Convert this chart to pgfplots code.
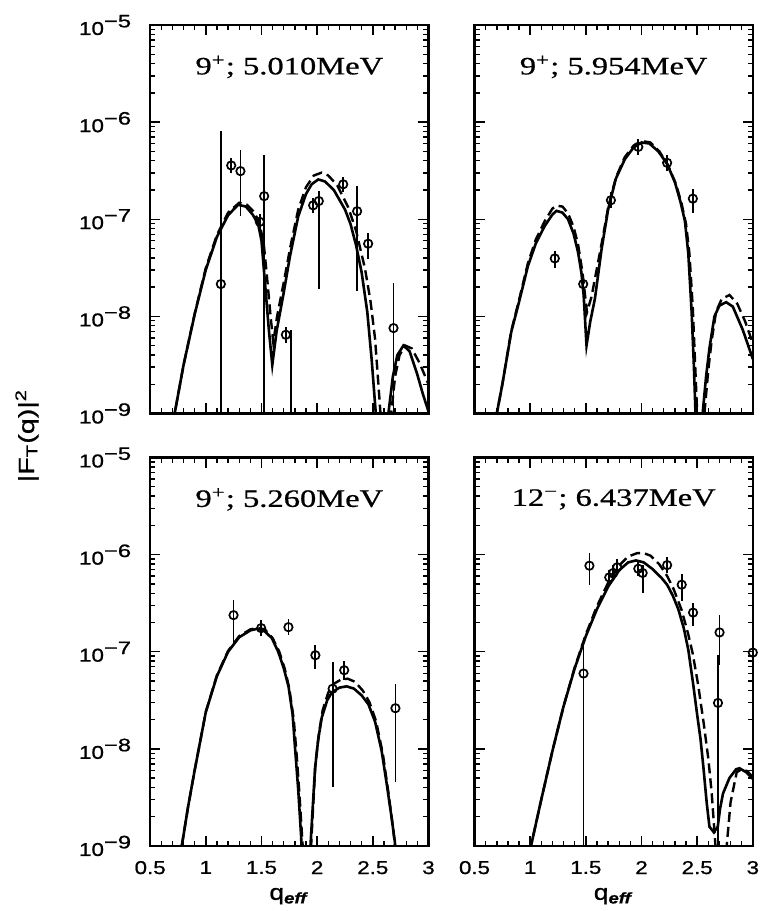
\documentclass[border=0pt]{standalone}
\usepackage{graphicx}
\usepackage{fontspec}
\setmainfont{Liberation Serif}[FakeBold=0.6]
\newfontfamily\sansw{Liberation Sans}[FakeBold=0.8]
\usepackage{pgfplots}
\pgfplotsset{compat=1.18}
\usepgfplotslibrary{groupplots}
\usetikzlibrary{calc}
\newcommand{\w}[1]{\scalebox{1.2}[1]{#1}}
\newcommand{\dec}[1]{\w{10\raisebox{3.8pt}{\fontsize{9}{9}\selectfont \scalebox{1.1}[1]{−#1}}}}
\newcommand{\ttl}[1]{\scalebox{1.3}[1]{#1}}
\pgfplotsset{
  thcurve/.style={black, line width=1.3pt, no marks},
  thdash/.style={black, line width=1.2pt, no marks, dash pattern=on 5pt off 2.5pt},
  datapts/.style={black, only marks, mark=o, mark size=2.1pt,
    mark options={line width=0.85pt, solid},
    error bars/.cd, y dir=both, y explicit, error mark=none,
    error bar style={line width=0.9pt, solid}},
  ebar/.style={black, line width=0.9pt, no marks},
}
\begin{document}
\begin{tikzpicture}
\begin{groupplot}[
  group style={group size=2 by 2, horizontal sep=23pt, vertical sep=22pt,
    x descriptions at=edge bottom, y descriptions at=edge left},
  width=139pt, height=194pt, scale only axis,
  xmin=0.5, xmax=3, ymode=log, ymin=1e-9, ymax=1e-5,
  xtick={0.5,1,1.5,2,2.5,3}, xticklabels={\w{0.5},\w{1},\w{1.5},\w{2},\w{2.5},\w{3}},
  minor x tick num=4,
  ytick={1e-9,1e-8,1e-7,1e-6,1e-5},
  yticklabels={\dec{9},\dec{8},\dec{7},\dec{6},\dec{5}},
  minor ytick={2e-9,3e-9,4e-9,5e-9,6e-9,7e-9,8e-9,9e-9,
    2e-8,3e-8,4e-8,5e-8,6e-8,7e-8,8e-8,9e-8,
    2e-7,3e-7,4e-7,5e-7,6e-7,7e-7,8e-7,9e-7,
    2e-6,3e-6,4e-6,5e-6,6e-6,7e-6,8e-6,9e-6},
  tick align=inside, major tick length=5pt, minor tick length=2.5pt,
  every tick/.style={black, line width=0.7pt},
  axis line style={line width=1.1pt},
  tick label style={font=\sansw\fontsize{9.3}{10}\selectfont},
  xticklabel style={yshift=-4pt},
  yticklabel style={xshift=-6pt},
  xlabel={\w{q\textsubscript{\textbf{\textit{eff}}}}},
  xlabel style={font=\sansw\fontsize{11}{13}\selectfont},
]
% ---------------- top left
\nextgroupplot
\addplot[thcurve] coordinates {(0.70,5.62e-10) (0.72,1.0e-9) (0.80,3.16e-9) (0.90,1.05e-8) (1.00,3.02e-8) (1.10,6.61e-8) (1.20,1.10e-7) (1.29,1.41e-7) (1.36,1.35e-7) (1.42,1.12e-7) (1.47,8.91e-8) (1.50,6.03e-8) (1.531,2.24e-8) (1.567,7.08e-9) (1.597,3.16e-9) (1.636,7.08e-9) (1.696,1.66e-8) (1.756,4.17e-8) (1.83,1.07e-7) (1.90,1.82e-7) (1.95,2.29e-7) (2.01,2.57e-7) (2.07,2.45e-7) (2.15,2.00e-7) (2.25,1.26e-7) (2.30,8.91e-8) (2.35,5.37e-8) (2.40,2.82e-8) (2.45,1.12e-8) (2.49,3.55e-9) (2.53,8.91e-10) (2.56,2.51e-10) (2.59,1e-11) (2.62,2.51e-10) (2.64,1.0e-9) (2.68,2.40e-9) (2.72,3.98e-9) (2.775,5.01e-9) (2.83,4.37e-9) (2.90,2.51e-9) (2.95,1.58e-9) (3.00,1.05e-9)};
\addplot[thdash] coordinates {(0.70,5.62e-10) (0.72,1.0e-9) (0.80,3.16e-9) (0.90,1.07e-8) (1.00,3.16e-8) (1.10,6.92e-8) (1.20,1.17e-7) (1.30,1.48e-7) (1.37,1.41e-7) (1.43,1.20e-7) (1.48,9.33e-8) (1.52,5.62e-8) (1.55,2.51e-8) (1.58,1.05e-8) (1.606,5.37e-9) (1.64,1.0e-8) (1.70,2.24e-8) (1.76,5.25e-8) (1.83,1.26e-7) (1.90,2.14e-7) (1.97,2.82e-7) (2.04,3.02e-7) (2.10,2.82e-7) (2.18,2.24e-7) (2.28,1.32e-7) (2.35,7.59e-8) (2.43,3.09e-8) (2.48,1.41e-8) (2.52,5.89e-9) (2.55,2.00e-9) (2.575,7.94e-10) (2.60,1.58e-10) (2.615,1e-11) (2.64,1.58e-10) (2.665,1.0e-9) (2.70,2.40e-9) (2.74,3.98e-9) (2.79,5.01e-9) (2.85,4.68e-9) (2.92,3.31e-9) (3.00,2.00e-9)};
\addplot[datapts] table[x=x, y=y, y error plus=ep, y error minus=em, row sep=\\] {
x y ep em\\
1.135 2.15e-8 7.985e-7 2.14e-8\\
1.228 3.58e-7 7.2e-8 5.8e-8\\
1.311 3.13e-7 2.01e-7 2.05e-7\\
1.485 9.4e-8 1.9e-8 1.58e-8\\
1.524 1.73e-7 2.84e-7 1.729e-7\\
1.719 6.46e-9 1.3e-9 1.1e-9\\
1.964 1.39e-7 2.8e-8 2.3e-8\\
2.015 1.54e-7 4.1e-8 1.349e-7\\
2.234 2.29e-7 4.6e-8 3.8e-8\\
2.359 1.21e-7 9.9e-8 1.026e-7\\
2.458 5.6e-8 1.7e-8 1.7e-8\\
2.686 7.57e-9 1.433e-8 7.47e-9\\
};
\addplot[ebar] coordinates {(1.763,1e-10) (1.763,7.2e-9)};
\node[font=\fontsize{12.5}{14}\selectfont] at (rel axis cs:0.5,0.892) {\ttl{9\textsuperscript{+}; 5.010MeV}};
% ---------------- top right
\nextgroupplot
\addplot[thcurve] coordinates {(0.68,6.31e-10) (0.70,1.0e-9) (0.75,2.0e-9) (0.83,6.92e-9) (0.90,1.41e-8) (0.98,3.31e-8) (1.05,5.62e-8) (1.13,8.51e-8) (1.20,1.12e-7) (1.236,1.22e-7) (1.29,1.17e-7) (1.34,1.0e-7) (1.39,7.08e-8) (1.43,4.57e-8) (1.46,2.82e-8) (1.48,1.66e-8) (1.506,5.01e-9) (1.54,8.91e-9) (1.581,1.51e-8) (1.641,4.90e-8) (1.70,1.26e-7) (1.77,2.63e-7) (1.851,4.17e-7) (1.93,5.50e-7) (2.00,6.17e-7) (2.07,6.03e-7) (2.15,5.01e-7) (2.23,3.72e-7) (2.30,2.40e-7) (2.35,1.51e-7) (2.39,9.55e-8) (2.42,4.47e-8) (2.45,1.12e-8) (2.47,3.16e-9) (2.485,1.0e-9) (2.50,2.51e-10) (2.517,1e-11) (2.535,2.51e-10) (2.549,1.0e-9) (2.58,2.40e-9) (2.61,4.68e-9) (2.655,1.0e-8) (2.70,1.29e-8) (2.76,1.40e-8) (2.82,1.26e-8) (2.91,7.24e-9) (3.00,3.63e-9)};
\addplot[thdash] coordinates {(0.68,6.31e-10) (0.70,1.0e-9) (0.75,2.0e-9) (0.83,7.08e-9) (0.90,1.48e-8) (0.98,3.55e-8) (1.05,6.17e-8) (1.13,9.55e-8) (1.20,1.29e-7) (1.24,1.38e-7) (1.29,1.35e-7) (1.34,1.15e-7) (1.39,8.32e-8) (1.43,5.50e-8) (1.47,2.82e-8) (1.51,1.10e-8) (1.55,1.58e-8) (1.60,3.16e-8) (1.65,6.31e-8) (1.70,1.32e-7) (1.77,2.69e-7) (1.85,4.37e-7) (1.93,5.75e-7) (2.01,6.38e-7) (2.08,6.17e-7) (2.16,5.01e-7) (2.24,3.55e-7) (2.31,2.29e-7) (2.36,1.45e-7) (2.40,8.91e-8) (2.43,4.47e-8) (2.46,1.26e-8) (2.48,3.55e-9) (2.50,1.0e-9) (2.515,2.51e-10) (2.53,1e-11) (2.55,2.51e-10) (2.565,1.0e-9) (2.60,2.82e-9) (2.63,5.62e-9) (2.67,1.12e-8) (2.72,1.51e-8) (2.79,1.66e-8) (2.86,1.35e-8) (2.93,8.91e-9) (3.00,5.25e-9)};
\addplot[datapts] table[x=x, y=y, y error plus=ep, y error minus=em, row sep=\\] {
x y ep em\\
1.221 3.95e-8 8e-9 8e-9\\
1.476 2.15e-8 4.3e-9 3.6e-9\\
1.725 1.57e-7 3.2e-8 2.6e-8\\
1.971 5.56e-7 1.12e-7 9.3e-8\\
2.230 3.81e-7 7.7e-8 6.4e-8\\
2.461 1.63e-7 4.0e-8 4.6e-8\\
};
\node[font=\fontsize{12.5}{14}\selectfont] at (rel axis cs:0.5,0.892) {\ttl{9\textsuperscript{+}; 5.954MeV}};
% ---------------- bottom left
\nextgroupplot
\addplot[thcurve] coordinates {(0.76,5.01e-10) (0.784,1.0e-9) (0.84,2.51e-9) (0.90,6.03e-9) (1.00,2.40e-8) (1.10,5.62e-8) (1.20,1.0e-7) (1.30,1.41e-7) (1.40,1.66e-7) (1.46,1.72e-7) (1.52,1.66e-7) (1.593,1.38e-7) (1.65,1.0e-7) (1.70,6.76e-8) (1.743,4.37e-8) (1.78,2.24e-8) (1.802,1.0e-8) (1.83,3.80e-9) (1.856,1.26e-9) (1.87,5.01e-10) (1.895,1e-11) (1.925,5.01e-10) (1.945,1.26e-9) (1.981,6.31e-9) (2.01,1.26e-8) (2.041,2.09e-8) (2.09,3.16e-8) (2.131,3.80e-8) (2.20,4.27e-8) (2.265,4.40e-8) (2.33,4.17e-8) (2.40,3.55e-8) (2.46,2.88e-8) (2.52,1.91e-8) (2.579,9.55e-9) (2.63,3.98e-9) (2.67,1.91e-9) (2.698,1.10e-9) (2.72,5.01e-10)};
\addplot[thdash] coordinates {(0.76,5.01e-10) (0.784,1.0e-9) (0.84,2.51e-9) (0.90,6.03e-9) (1.00,2.40e-8) (1.10,5.75e-8) (1.20,1.02e-7) (1.30,1.45e-7) (1.40,1.70e-7) (1.47,1.76e-7) (1.53,1.70e-7) (1.60,1.38e-7) (1.66,1.0e-7) (1.71,6.61e-8) (1.75,4.17e-8) (1.79,2.0e-8) (1.815,8.91e-9) (1.84,3.55e-9) (1.87,1.0e-9) (1.885,3.98e-10) (1.905,1e-11) (1.93,3.98e-10) (1.95,1.26e-9) (1.985,7.08e-9) (2.015,1.41e-8) (2.05,2.51e-8) (2.10,3.80e-8) (2.15,4.68e-8) (2.21,5.13e-8) (2.274,5.28e-8) (2.34,4.90e-8) (2.41,3.98e-8) (2.47,3.02e-8) (2.53,1.91e-8) (2.59,8.91e-9) (2.64,3.55e-9) (2.68,1.58e-9) (2.705,8.91e-10) (2.725,3.98e-10)};
\addplot[datapts] table[x=x, y=y, y error plus=ep, y error minus=em, row sep=\\] {
x y ep em\\
1.249 2.38e-7 1.05e-7 1.16e-7\\
1.497 1.75e-7 3.5e-8 2.9e-8\\
1.742 1.79e-7 3.6e-8 3.0e-8\\
1.984 9.2e-8 2.5e-8 2.6e-8\\
2.139 4.16e-8 3.71e-8 3.76e-8\\
2.243 6.45e-8 1.6e-8 1.3e-8\\
2.703 2.62e-8 2.07e-8 2.162e-8\\
};
\node[font=\fontsize{12.5}{14}\selectfont] at (rel axis cs:0.5,0.892) {\ttl{9\textsuperscript{+}; 5.260MeV}};
% ---------------- bottom right
\nextgroupplot
\addplot[thcurve] coordinates {(0.98,6.31e-10) (1.007,1.0e-9) (1.10,3.02e-9) (1.20,9.55e-9) (1.30,2.75e-8) (1.40,6.76e-8) (1.50,1.45e-7) (1.60,2.75e-7) (1.70,4.68e-7) (1.80,6.92e-7) (1.88,8.32e-7) (1.95,8.71e-7) (2.02,8.32e-7) (2.10,7.08e-7) (2.18,5.75e-7) (2.23,4.90e-7) (2.28,3.80e-7) (2.33,2.75e-7) (2.38,1.74e-7) (2.42,1.05e-7) (2.46,5.01e-8) (2.50,2.24e-8) (2.53,1.26e-8) (2.555,6.61e-9) (2.585,2.82e-9) (2.61,1.58e-9) (2.65,1.38e-9) (2.685,1.58e-9) (2.705,2.40e-9) (2.732,3.47e-9) (2.79,5.01e-9) (2.85,6.17e-9) (2.88,6.31e-9) (2.94,5.75e-9) (3.00,4.90e-9)};
\addplot[thdash] coordinates {(0.98,6.31e-10) (1.007,1.0e-9) (1.10,3.02e-9) (1.20,9.55e-9) (1.30,2.75e-8) (1.40,6.92e-8) (1.50,1.51e-7) (1.60,2.95e-7) (1.70,5.13e-7) (1.80,7.76e-7) (1.88,9.55e-7) (1.96,1.035e-6) (2.015,1.04e-6) (2.08,9.77e-7) (2.16,7.94e-7) (2.23,6.03e-7) (2.29,4.37e-7) (2.36,2.69e-7) (2.42,1.51e-7) (2.46,9.55e-8) (2.51,4.47e-8) (2.56,1.78e-8) (2.60,7.94e-9) (2.63,3.55e-9) (2.655,1.41e-9) (2.67,7.94e-10) (2.70,1e-10) (2.72,1e-11) (2.745,1e-10) (2.765,1.0e-9) (2.80,2.82e-9) (2.855,5.75e-9) (2.90,6.17e-9) (2.95,5.89e-9) (3.00,5.13e-9)};
\addplot[datapts] table[x=x, y=y, y error plus=ep, y error minus=em, row sep=\\] {
x y ep em\\
1.532 7.69e-7 2.71e-7 2.87e-7\\
1.479 5.97e-8 7.73e-8 5.96e-8\\
1.710 5.83e-7 1.18e-7 9.8e-8\\
1.746 6.47e-7 1.3e-7 1.09e-7\\
1.782 7.41e-7 1.5e-7 1.24e-7\\
1.971 7.16e-7 1.45e-7 1.2e-7\\
2.010 6.47e-7 1.43e-7 2.49e-7\\
2.230 7.8e-7 1.58e-7 1.31e-7\\
2.361 4.9e-7 1.4e-7 1.56e-7\\
2.463 2.53e-7 6.3e-8 7.1e-8\\
2.701 1.58e-7 8.2e-8 8.5e-8\\
2.687 2.97e-8 6.33e-8 2.96e-8\\
3.000 9.8e-8 0 0\\
};
\node[font=\fontsize{12.5}{14}\selectfont] at (rel axis cs:0.5,0.892) {\ttl{12\textsuperscript{−}; 6.437MeV}};
\end{groupplot}
\node[rotate=90, font=\sansw\fontsize{11}{13}\selectfont] at ($(group c1r1.south west)!0.5!(group c1r2.north west)+(-61.5pt,0)$) {\scalebox{1.3}[1]{|F\textsubscript{T}(q)|\textsuperscript{2}}};
\pgfresetboundingbox
\path[use as bounding box] ($(group c1r1.north west)+(-75pt,12.5pt)$) rectangle ($(group c2r2.south east)+(4pt,-32.5pt)$);
\end{tikzpicture}
\end{document}
